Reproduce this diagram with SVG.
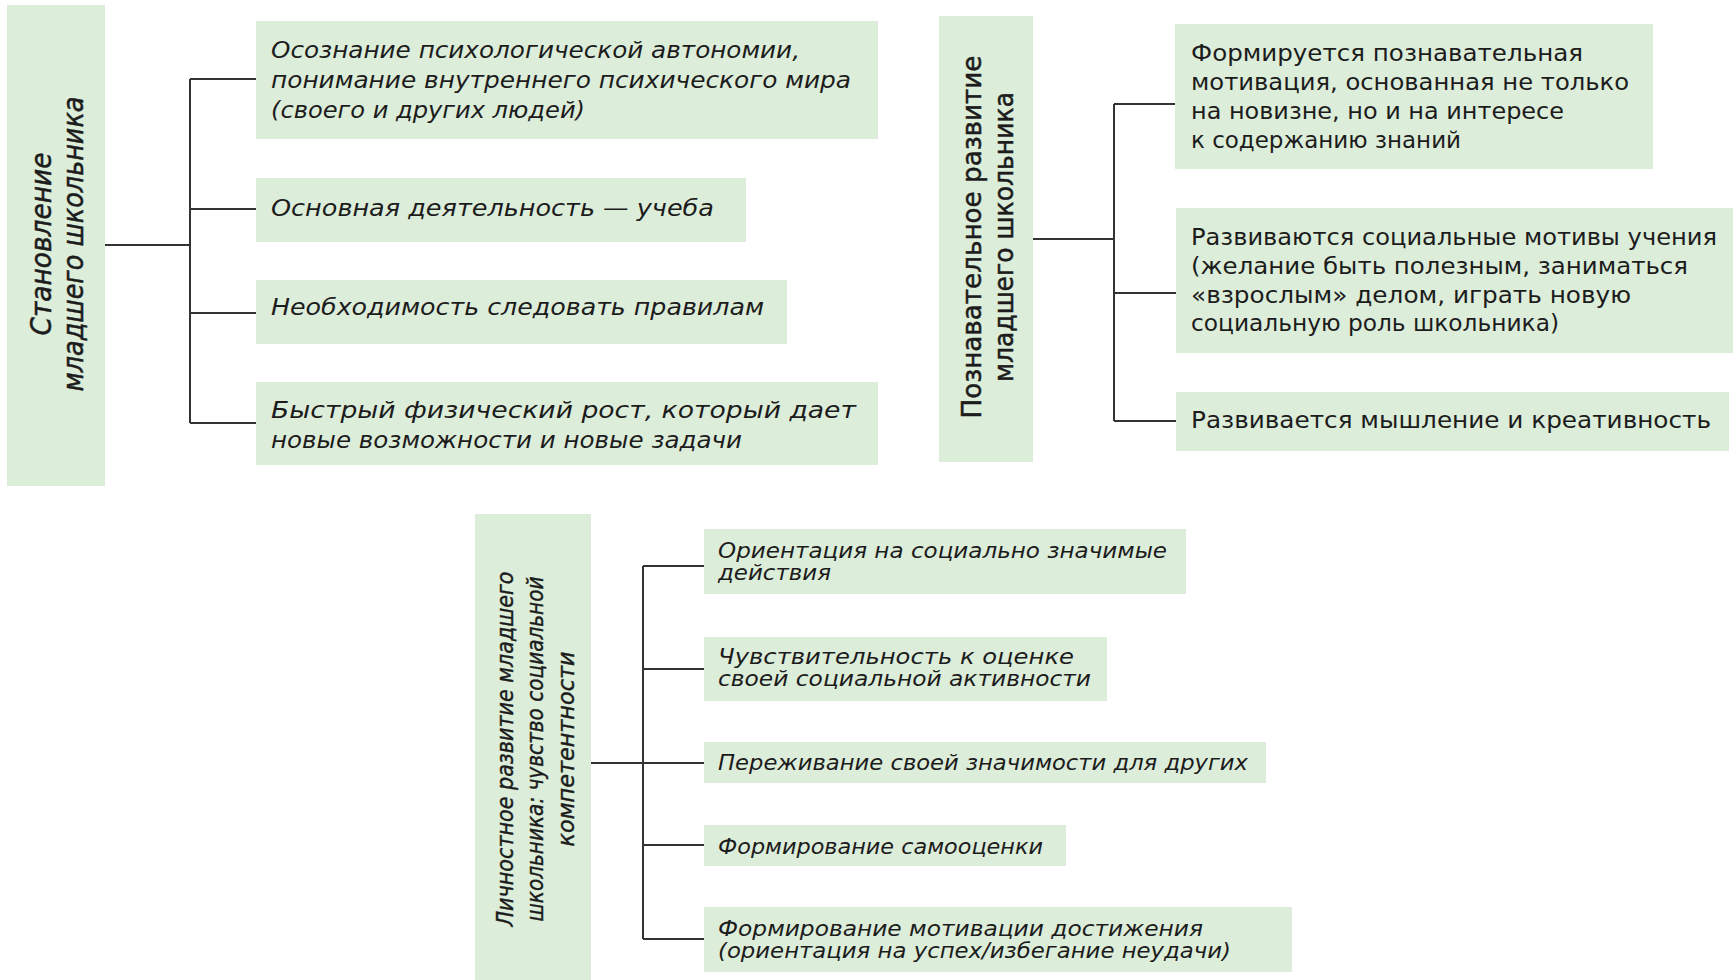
<svg xmlns="http://www.w3.org/2000/svg" width="1736" height="980" viewBox="0 0 1736 980">
<style>
.box{fill:#dcedda;}
.ln{fill:none;stroke:#333;stroke-width:2;}
.t{font-family:"DejaVu Sans","Liberation Sans",sans-serif;fill:#1c1c1c;}
.b1{font-size:23px;font-style:italic;}
.b2{font-size:23px;}
.b3{font-size:21px;font-style:italic;}
.h1{font-size:28px;font-style:italic;stroke:#1c1c1c;stroke-width:0.5;}
.h2{font-size:26px;stroke:#1c1c1c;stroke-width:0.5;}
.h3{font-size:23px;font-style:italic;stroke:#1c1c1c;stroke-width:0.4;}
</style>
<rect width="1736" height="980" fill="#ffffff"/>
<g id="connectors">
<path class="ln" d="M105 245H190M190 79V423M190 79H256M190 209H256M190 313H256M190 423H256"/>
<path class="ln" d="M1033 239H1114M1114 104V421M1114 104H1175M1114 293H1176M1114 421H1176"/>
<path class="ln" d="M591 763H643M643 566V939M643 566H704M643 669H704M643 763H704M643 845H704M643 939H704"/>
</g>
<g id="title1">
<rect class="box" x="7" y="5" width="98" height="481"/>
<g transform="translate(0,244) rotate(-90)">
<text class="t h1" x="0" y="51" text-anchor="middle" textLength="183" lengthAdjust="spacingAndGlyphs">Становление</text>
<text class="t h1" x="0" y="83" text-anchor="middle" textLength="295" lengthAdjust="spacingAndGlyphs">младшего школьника</text>
</g>
</g>
<g id="n1a">
<rect class="box" x="256" y="21" width="622" height="118"/>
<text class="t b1" x="271" y="58" textLength="529" lengthAdjust="spacingAndGlyphs">Осознание психологической автономии,</text>
<text class="t b1" x="271" y="88" textLength="580" lengthAdjust="spacingAndGlyphs">понимание внутреннего психического мира</text>
<text class="t b1" x="271" y="118" textLength="314" lengthAdjust="spacingAndGlyphs">(своего и других людей)</text>
</g>
<g id="n1b">
<rect class="box" x="256" y="178" width="490" height="64"/>
<text class="t b1" x="271" y="216" textLength="443" lengthAdjust="spacingAndGlyphs">Основная деятельность — учеба</text>
</g>
<g id="n1c">
<rect class="box" x="256" y="280" width="531" height="64"/>
<text class="t b1" x="271" y="315" textLength="493" lengthAdjust="spacingAndGlyphs">Необходимость следовать правилам</text>
</g>
<g id="n1d">
<rect class="box" x="256" y="382" width="622" height="83"/>
<text class="t b1" x="271" y="418" textLength="585" lengthAdjust="spacingAndGlyphs">Быстрый физический рост, который дает</text>
<text class="t b1" x="271" y="448" textLength="471" lengthAdjust="spacingAndGlyphs">новые возможности и новые задачи</text>
</g>
<g id="title2">
<rect class="box" x="939" y="16" width="94" height="446"/>
<g transform="translate(0,237) rotate(-90)">
<text class="t h2" x="0" y="981" text-anchor="middle" textLength="363" lengthAdjust="spacingAndGlyphs">Познавательное развитие</text>
<text class="t h2" x="0" y="1013" text-anchor="middle" textLength="290" lengthAdjust="spacingAndGlyphs">младшего школьника</text>
</g>
</g>
<g id="n2a">
<rect class="box" x="1175" y="24" width="478" height="145"/>
<text class="t b2" x="1191" y="61" textLength="392" lengthAdjust="spacingAndGlyphs">Формируется познавательная</text>
<text class="t b2" x="1191" y="90" textLength="438" lengthAdjust="spacingAndGlyphs">мотивация, основанная не только</text>
<text class="t b2" x="1191" y="119" textLength="373" lengthAdjust="spacingAndGlyphs">на новизне, но и на интересе</text>
<text class="t b2" x="1191" y="148" textLength="270" lengthAdjust="spacingAndGlyphs">к содержанию знаний</text>
</g>
<g id="n2b">
<rect class="box" x="1176" y="208" width="557" height="145"/>
<text class="t b2" x="1191" y="245" textLength="526" lengthAdjust="spacingAndGlyphs">Развиваются социальные мотивы учения</text>
<text class="t b2" x="1191" y="274" textLength="497" lengthAdjust="spacingAndGlyphs">(желание быть полезным, заниматься</text>
<text class="t b2" x="1191" y="303" textLength="440" lengthAdjust="spacingAndGlyphs">«взрослым» делом, играть новую</text>
<text class="t b2" x="1191" y="331" textLength="368" lengthAdjust="spacingAndGlyphs">социальную роль школьника)</text>
</g>
<g id="n2c">
<rect class="box" x="1176" y="392" width="553" height="59"/>
<text class="t b2" x="1191" y="428" textLength="520" lengthAdjust="spacingAndGlyphs">Развивается мышление и креативность</text>
</g>
<g id="title3">
<rect class="box" x="475" y="514" width="116" height="466"/>
<g transform="translate(0,749) rotate(-90)">
<text class="t h3" x="0" y="513" text-anchor="middle" textLength="355" lengthAdjust="spacingAndGlyphs">Личностное развитие младшего</text>
<text class="t h3" x="0" y="543" text-anchor="middle" textLength="345" lengthAdjust="spacingAndGlyphs">школьника: чувство социальной</text>
<text class="t h3" x="0" y="574" text-anchor="middle" textLength="195" lengthAdjust="spacingAndGlyphs">компетентности</text>
</g>
</g>
<g id="n3a">
<rect class="box" x="704" y="529" width="482" height="65"/>
<text class="t b3" x="718" y="558" textLength="449" lengthAdjust="spacingAndGlyphs">Ориентация на социально значимые</text>
<text class="t b3" x="718" y="580" textLength="113" lengthAdjust="spacingAndGlyphs">действия</text>
</g>
<g id="n3b">
<rect class="box" x="704" y="637" width="403" height="64"/>
<text class="t b3" x="718" y="664" textLength="356" lengthAdjust="spacingAndGlyphs">Чувствительность к оценке</text>
<text class="t b3" x="718" y="686" textLength="373" lengthAdjust="spacingAndGlyphs">своей социальной активности</text>
</g>
<g id="n3c">
<rect class="box" x="704" y="742" width="562" height="41"/>
<text class="t b3" x="718" y="770" textLength="530" lengthAdjust="spacingAndGlyphs">Переживание своей значимости для других</text>
</g>
<g id="n3d">
<rect class="box" x="704" y="825" width="362" height="41"/>
<text class="t b3" x="718" y="854" textLength="325" lengthAdjust="spacingAndGlyphs">Формирование самооценки</text>
</g>
<g id="n3e">
<rect class="box" x="704" y="907" width="588" height="65"/>
<text class="t b3" x="718" y="936" textLength="485" lengthAdjust="spacingAndGlyphs">Формирование мотивации достижения</text>
<text class="t b3" x="718" y="958" textLength="513" lengthAdjust="spacingAndGlyphs">(ориентация на успех/избегание неудачи)</text>
</g>
</svg>
